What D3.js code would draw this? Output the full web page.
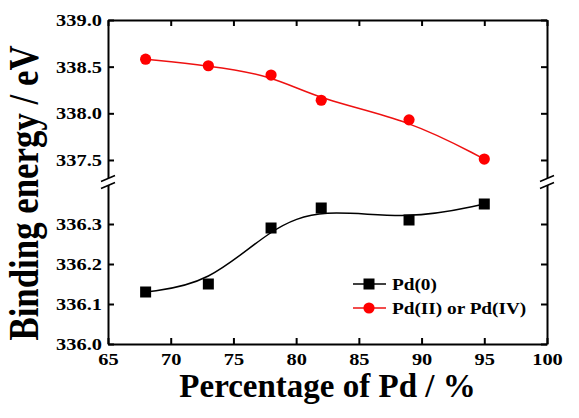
<!DOCTYPE html>
<html>
<head>
<meta charset="utf-8">
<script src="https://cdn.jsdelivr.net/npm/d3@7"></script>
<style>
  html, body { margin: 0; padding: 0; background: #fff; }
  svg { display: block; }
  text { font-family: "Liberation Serif", "Times New Roman", serif; font-weight: bold; fill: #000; }
</style>
</head>
<body>
<svg id="chart" width="579" height="418"></svg>
<script>
// ---- data ----
const percentages = [68, 73, 78, 82, 89, 95];
const pd0 = [336.13, 336.15, 336.29, 336.34, 336.31, 336.35];
const pdOx = [338.58, 338.51, 338.41, 338.14, 337.93, 337.51];
const xTicks = [65, 70, 75, 80, 85, 90, 95, 100];
const yLowTicks = [336.0, 336.1, 336.2, 336.3];
const yHighTicks = [337.5, 338.0, 338.5, 339.0];
const seriesNames = ["Pd(0)", "Pd(II) or Pd(IV)"];
const xTitle = "Percentage of Pd / %";
const yTitle = "Binding energy / eV";

// ---- layout ----
const FONT = '"Liberation Serif", "Times New Roman", serif';
const svg = d3.select("#chart");
const L = 108, R = 547, T = 20, B = 344, BRK = 182;
const x = d3.scaleLinear().domain([65, 100]).range([L, R]);
const yLow = d3.scaleLinear().domain([336.0, 336.405]).range([B, BRK]);
const yHigh = d3.scaleLinear().domain([337.264, 339.0]).range([BRK, T]);
const TS = 6;
const tickScale = 1.2;
const fmt = d3.format(".1f");

function styleAxis(g) {
  g.attr("font-family", FONT).attr("font-weight", "bold").attr("font-size", 17);
  g.selectAll("path.domain").attr("stroke", "#000").attr("stroke-width", 2);
  g.selectAll(".tick line").attr("stroke", "#000").attr("stroke-width", 2);
  g.selectAll(".tick text").style("font-size", "17px").style("font-family", FONT).attr("fill", "#000");
}

// bottom axis
const gB = svg.append("g").attr("transform", `translate(0,${B})`)
  .call(d3.axisBottom(x).tickValues(xTicks).tickSize(-TS).tickSizeOuter(0).tickPadding(9).tickFormat(d3.format("d")));
styleAxis(gB);
gB.selectAll(".tick text").attr("transform", `scale(${tickScale},1)`);
// top axis
const gT = svg.append("g").attr("transform", `translate(0,${T})`)
  .call(d3.axisTop(x).tickValues(xTicks).tickSize(-TS).tickSizeOuter(0).tickFormat(""));
styleAxis(gT);

// left / right axes (two segments each)
[[yLow, yLowTicks], [yHigh, yHighTicks]].forEach(([sc, tv]) => {
  const g = svg.append("g").attr("transform", `translate(${L},0)`)
    .call(d3.axisLeft(sc).tickValues(tv).tickSize(-TS).tickSizeOuter(0).tickPadding(6).tickFormat(fmt));
  styleAxis(g);
  g.selectAll(".tick text").attr("x", -6 / tickScale).attr("transform", `scale(${tickScale},1)`);
  const gr = svg.append("g").attr("transform", `translate(${R},0)`)
    .call(d3.axisRight(sc).tickValues(tv).tickSize(-TS).tickSizeOuter(0).tickFormat(""));
  styleAxis(gr);
});

// axis breaks
[L, R].forEach(ax => {
  const dx = 7, dy = 3, h = 3.6;
  const g = svg.append("g");
  g.append("polygon")
    .attr("points", `${ax-dx},${BRK+h+dy} ${ax+dx},${BRK+h-dy} ${ax+dx},${BRK-h-dy} ${ax-dx},${BRK-h+dy}`)
    .attr("fill", "#fff");
  [-h, h].forEach(o => {
    g.append("line")
      .attr("x1", ax - dx).attr("y1", BRK + o + dy)
      .attr("x2", ax + dx).attr("y2", BRK + o - dy)
      .attr("stroke", "#000").attr("stroke-width", 1.6);
  });
});

// ---- series ----
const blackData = percentages.map((p, i) => [p, pd0[i]]);
const redData = percentages.map((p, i) => [p, pdOx[i]]);

const lineLow = d3.line().x(d => x(d[0])).y(d => yLow(d[1])).curve(d3.curveBasis);
const lineHigh = d3.line().x(d => x(d[0])).y(d => yHigh(d[1])).curve(d3.curveBasis);

svg.append("path").datum(blackData).attr("d", lineLow)
  .attr("fill", "none").attr("stroke", "#000").attr("stroke-width", 1.5);
svg.append("path").datum(redData).attr("d", lineHigh)
  .attr("fill", "none").attr("stroke", "#ee1111").attr("stroke-width", 1.5);

const SQ = 11, CR = 5.6;
svg.selectAll("rect.pt").data(blackData).enter().append("rect")
  .attr("x", d => x(d[0]) - SQ / 2).attr("y", d => yLow(d[1]) - SQ / 2)
  .attr("width", SQ).attr("height", SQ).attr("fill", "#000");
svg.selectAll("circle.pt").data(redData).enter().append("circle")
  .attr("cx", d => x(d[0])).attr("cy", d => yHigh(d[1])).attr("r", CR).attr("fill", "#ff0000");

// ---- legend ----
const lg = svg.append("g");
const lx0 = 353, lx1 = 386, lxm = 369, ltx = 392;
[284, 308].forEach((ly, i) => {
  lg.append("line").attr("x1", lx0).attr("x2", lx1).attr("y1", ly).attr("y2", ly)
    .attr("stroke", i === 0 ? "#000" : "#ee1111").attr("stroke-width", 1.5);
  if (i === 0) {
    lg.append("rect").attr("x", lxm - SQ / 2).attr("y", ly - SQ / 2).attr("width", SQ).attr("height", SQ).attr("fill", "#000");
  } else {
    lg.append("circle").attr("cx", lxm).attr("cy", ly).attr("r", CR).attr("fill", "#ff0000");
  }
  lg.append("text").attr("transform", `translate(${ltx},${ly + 6}) scale(1.1,1)`)
    .style("font-size", "17.5px").text(seriesNames[i]);
});

// ---- titles ----
svg.append("text").attr("x", (L + R) / 2).attr("y", 397).attr("text-anchor", "middle")
  .style("font-size", "33px").text(xTitle);
svg.append("text").attr("transform", `translate(38,193) rotate(-90) scale(0.83,1)`)
  .attr("text-anchor", "middle").style("font-size", "42px").text(yTitle);
</script>
</body>
</html>
